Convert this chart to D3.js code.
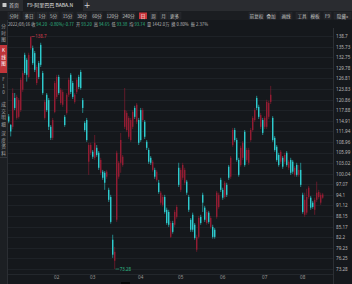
<!DOCTYPE html>
<html>
<head>
<meta charset="utf-8">
<script src="https://cdn.jsdelivr.net/npm/d3@7"></script>
<style>
  html, body { margin: 0; padding: 0; background: #15181c; overflow: hidden; }
  svg { display: block; font-family: "Noto Sans CJK SC", "Noto Sans", sans-serif; }
</style>
</head>
<body>
<svg id="chart" width="352" height="284"></svg>
<script>
// daily candles, 2021/12/28 .. 2022/08/16
const opens = [116.1,113.7,113.2,121.3,115.7,116.0,117.9,123.6,133.4,132.0,127.2,135.3,135.3,133.9,125.5,131.1,136.2,128.3,115.7,122.2,
  120.7,113.2,110.1,117.4,121.6,127.2,119.9,119.4,116.0,117.1,122.2,127.8,125.5,120.2,123.0,127.2,128.6,120.7,114.3,115.1,
  103.4,105.9,106.2,104.5,107.3,105.9,100.3,100.6,100.3,99.2,95.5,93.5,81.5,75.6,87.1,99.2,103.1,102.5,113.2,112.3,
  110.4,109.5,113.2,118.5,114.6,115.1,117.9,115.1,114.6,109.0,106.7,104.5,101.1,101.1,98.3,97.5,91.9,91.3,93.5,89.9,
  89.3,82.3,86.2,85.7,87.9,101.7,95.5,98.9,97.5,97.8,93.5,87.1,88.5,85.7,78.7,82.3,87.9,94.1,90.5,86.2,
  89.1,85.1,85.1,84.3,87.9,90.7,98.3,95.5,93.5,96.9,102.0,99.2,108.1,112.3,109.5,103.9,102.5,104.5,111.8,103.9,
  103.1,109.5,112.3,115.1,121.3,118.8,113.2,115.1,113.2,113.2,116.0,120.2,115.7,110.1,107.6,105.3,103.4,104.5,103.4,105.9,
  101.7,103.9,103.4,99.7,102.5,99.7,101.1,94.1,88.5,89.1,93.5,93.3,91.9,89.9,92.7,93.5,91.9,93.3];
const highs = [116.8,114.0,124.0,122.7,122.2,121.3,127.0,129.0,134.0,132.5,134.0,138.7,136.0,134.5,130.6,131.7,136.8,128.9,120.8,122.7,
  121.3,113.7,115.7,126.1,127.8,127.8,124.1,123.6,116.5,122.7,127.0,128.3,126.1,122.7,127.0,127.8,129.2,121.3,114.8,115.7,
  108.7,108.7,106.7,110.9,108.1,106.4,104.5,101.1,100.8,101.1,96.1,94.1,82.9,79.5,106.5,103.6,111.5,105.3,124.1,117.7,
  116.2,115.7,117.9,119.1,119.9,115.7,118.5,118.5,115.1,109.5,107.3,105.0,103.9,101.7,101.1,98.3,95.2,94.1,94.1,90.5,
  89.9,86.8,86.8,89.9,91.3,103.1,101.7,103.1,101.7,98.3,94.1,87.6,89.1,86.2,82.9,88.2,88.5,94.7,91.0,89.9,
  89.6,88.2,85.7,84.8,95.2,94.7,98.9,96.1,98.0,97.5,102.5,105.0,112.9,112.9,110.1,104.5,107.9,109.2,112.3,107.3,
  107.3,112.9,116.2,118.5,121.9,119.4,117.1,115.7,116.2,120.8,120.5,124.7,116.2,110.6,108.1,105.9,106.7,105.0,105.9,106.4,
  103.9,104.5,103.9,102.2,103.1,102.5,103.1,94.7,94.7,95.8,96.6,93.8,92.4,93.3,97.8,95.5,94.7,94.65];
const lows = [114.2,110.5,112.5,117.9,115.2,115.5,117.4,123.0,127.8,125.9,126.8,134.8,130.6,128.6,124.9,126.6,130.0,122.2,115.2,117.4,
  112.3,109.5,109.5,117.0,121.0,122.2,119.4,118.8,113.2,116.6,121.6,122.4,121.0,119.7,122.4,123.8,123.6,117.1,111.8,109.0,
  99.7,105.3,104.2,103.9,104.8,101.1,99.7,98.3,95.5,98.6,92.1,86.0,76.4,73.28,86.5,98.6,100.3,102.0,112.6,111.8,
  109.8,109.0,112.6,115.4,114.0,108.1,109.0,114.6,109.8,106.7,102.8,102.5,100.6,98.6,97.8,94.4,91.3,90.8,88.8,85.7,
  85.1,82.0,83.2,85.1,87.4,96.3,94.9,98.3,96.9,94.1,89.3,83.7,83.7,81.5,78.1,81.8,85.7,89.3,86.5,85.7,
  86.0,84.6,81.8,81.8,87.4,90.2,94.9,92.7,93.0,93.5,98.3,98.6,107.6,109.0,103.4,99.2,102.0,103.9,102.0,103.4,
  102.5,109.0,111.8,114.6,117.9,115.4,112.6,110.9,112.6,112.6,115.4,119.6,109.0,106.2,103.4,102.0,102.8,101.4,102.8,102.0,
  101.1,99.7,100.0,99.2,99.2,99.2,96.3,88.8,87.9,88.5,93.0,89.9,90.2,88.5,92.1,93.0,91.3,93.0];
const closes = [114.7,111.9,122.7,118.5,121.6,120.7,126.4,128.3,128.3,127.8,133.4,138.4,131.1,129.2,130.0,127.2,130.6,122.7,120.2,117.9,
  113.2,110.1,115.1,125.5,127.2,122.7,123.6,123.0,113.7,122.2,126.4,123.0,121.6,122.2,126.4,124.4,124.1,118.5,112.3,109.5,
  108.1,108.1,104.8,108.7,105.3,101.7,103.9,98.9,97.5,100.6,92.7,86.5,77.3,78.1,105.9,103.1,109.5,104.8,117.9,117.1,
  115.7,115.1,117.4,116.0,119.4,108.7,109.5,117.9,110.4,107.3,103.4,103.1,103.4,99.2,100.6,94.9,94.7,93.5,89.3,86.2,
  85.7,86.2,83.7,89.3,90.7,96.9,101.1,102.5,101.1,94.7,89.9,84.3,84.3,82.0,82.3,87.6,86.2,91.9,87.1,89.3,
  86.5,87.6,82.3,82.3,94.7,94.1,95.5,93.3,97.5,94.1,98.9,104.5,112.3,109.5,103.9,99.7,107.3,108.7,102.5,106.7,
  106.7,112.3,115.7,117.9,118.5,116.0,116.5,111.5,115.7,120.2,119.9,122.2,109.5,106.7,103.9,102.5,106.2,102.0,105.3,102.5,
  103.4,100.3,100.6,101.7,99.7,101.1,96.9,89.3,92.7,93.5,96.1,90.5,90.7,92.7,94.7,94.9,94.1,94.2];

const priceLabels = ["138.7","135.73","132.75","129.78","126.81","123.83","120.86","117.88","114.91","111.94","108.96",
  "105.99","103.02","100.04","97.07","94.1","91.12","88.15","85.17","82.2","79.23","76.25","73.28"];
const monthLabels = ["02","03","04","05","06","07","08"];
const monthStart = [24, 42, 66, 86, 107, 128, 147];

const periodTabs = ["分时","多日","1分","5分","15分","30分","60分","120分","240分","日","周","月","更多"];
const toolTabs = ["前复权","叠加","画线","工具","模板","F9","隐藏»"];
const sideTabs = ["分时图","K线图","F10","成交明细","深度资料"];
const quote = [
  ["2022/08/16", "#bdbdbd"], [" 收 ", "#bdbdbd"], ["94.20", "#2fb985"], ["  ", "#bdbdbd"],
  ["-0.80%/-0.77", "#2fb985"], ["  开 ", "#bdbdbd"], ["93.20", "#2fb985"], ["  高 ", "#bdbdbd"],
  ["94.65", "#2fb985"], ["  低 ", "#bdbdbd"], ["93.38", "#2fb985"], ["  均 ", "#bdbdbd"],
  ["93.74", "#2fb985"], ["  量 1442.0万", "#bdbdbd"], ["  换 0.80%  振 2.37%", "#bdbdbd"]
];

const UP = "#931c33";
const DOWN = "#2ecbce";

const svg = d3.select("#chart");
const PLOT = { LEFT: 8, RIGHT: 333, TOP: 28, BOTTOM: 274 };

// backgrounds
svg.append("rect").attr("width", 352).attr("height", 284).attr("fill", "#15181c");
svg.append("rect").attr("width", 352).attr("height", 11).attr("fill", "#2a2c30");
svg.append("rect").attr("y", 11).attr("width", 352).attr("height", 9).attr("fill", "#1b1d21");
svg.append("rect").attr("y", 20).attr("width", 8).attr("height", 264).attr("fill", "#1c1f23");
svg.append("line").attr("x1", 7.5).attr("x2", 7.5).attr("y1", 20).attr("y2", 284).attr("stroke", "#2b2e33");

// tab bar
svg.append("rect").attr("x", 2.5).attr("y", 3).attr("width", 4).attr("height", 4).attr("fill", "#c9c9c9").attr("rx", 0.5);
svg.append("text").attr("x", 9).attr("y", 7.3).attr("font-size", 5).attr("fill", "#d0d0d0").text("首页");
svg.append("rect").attr("x", 23).attr("y", 0).attr("width", 60).attr("height", 11).attr("fill", "#1b1d21");
svg.append("text").attr("x", 27).attr("y", 7.3).attr("font-size", 5).attr("fill", "#e0e0e0").text("F9-阿里巴巴 BABA.N");
svg.append("text").attr("x", 87).attr("y", 8.4).attr("font-size", 8).attr("fill", "#cfcfcf")
  .attr("font-family", "'DejaVu Sans', sans-serif").attr("text-anchor", "middle").text("+");

// period buttons
const periodX = [8, 23, 37, 49, 62, 77, 92, 107, 122, 139, 150, 160, 168];
const periodW = [12, 12, 10, 9, 11, 10, 10, 11, 13, 8, 7, 7, 13];
periodTabs.forEach((t, k) => {
  const active = t === "日";
  svg.append("rect").attr("x", periodX[k]).attr("y", 12.5).attr("width", periodW[k]).attr("height", 6.5)
    .attr("fill", active ? "#c8353a" : "#222428").attr("stroke", active ? "none" : "#2d3034").attr("stroke-width", 0.4);
  svg.append("text").attr("x", periodX[k] + periodW[k] / 2).attr("y", 17.6).attr("font-size", 4.6)
    .attr("text-anchor", "middle").attr("fill", active ? "#ffffff" : "#c4c4c4").text(t);
});
const toolX = [249, 266, 280, 296, 310, 324, 334];
const toolW = [15, 10, 12, 12, 10, 7, 17];
toolTabs.forEach((t, k) => {
  svg.append("rect").attr("x", toolX[k]).attr("y", 12.5).attr("width", toolW[k]).attr("height", 6.5)
    .attr("fill", "#222428").attr("stroke", "#2d3034").attr("stroke-width", 0.4);
  svg.append("text").attr("x", toolX[k] + toolW[k] / 2).attr("y", 17.6).attr("font-size", 4.6)
    .attr("text-anchor", "middle").attr("fill", "#c4c4c4").text(t);
});

// quote line
const info = svg.append("text").attr("x", 8).attr("y", 25.8).attr("font-size", 4.2)
  .attr("xml:space", "preserve").style("white-space", "pre")
  .attr("textLength", 200).attr("lengthAdjust", "spacing");
quote.forEach(([t, c]) => info.append("tspan").attr("fill", c).text(t));

// side tabs
const sideY = [26, 50, 79, 104, 133];
sideTabs.forEach((t, k) => {
  const chars = t === "F10" ? ["F", "1", "0"] : Array.from(t);
  const active = t === "K线图";
  if (active) {
    svg.append("rect").attr("x", 0).attr("y", 45).attr("width", 7).attr("height", 28).attr("fill", "#c0353a");
  }
  chars.forEach((ch, j) => {
    svg.append("text").attr("x", 3.5).attr("y", sideY[k] + j * 6.5 + 2).attr("font-size", 4.6)
      .attr("text-anchor", "middle").attr("fill", active ? "#ffffff" : "#a9a9a9").text(ch);
  });
});
svg.append("line").attr("x1", 0).attr("x2", 7).attr("y1", 157.5).attr("y2", 157.5).attr("stroke", "#34373c");

// scales
const n = opens.length;
const x = d3.scaleBand().domain(d3.range(n)).range([7.7, 7.7 + 2 * n]);
const y = d3.scaleLinear().domain([73.28, 138.7]).range([269, 36]);
const cx = (i) => x(i) + x.bandwidth() / 2;

// grid
svg.append("g").selectAll("line").data(priceLabels).join("line")
  .attr("x1", PLOT.LEFT).attr("x2", PLOT.RIGHT)
  .attr("y1", (d) => Math.round(y(+d)) + 0.5).attr("y2", (d) => Math.round(y(+d)) + 0.5)
  .attr("stroke", "#1e2227").attr("stroke-width", 1);

svg.append("line").attr("x1", PLOT.RIGHT + 0.5).attr("x2", PLOT.RIGHT + 0.5)
  .attr("y1", 28).attr("y2", 284).attr("stroke", "#2c2f34");
svg.append("line").attr("x1", PLOT.LEFT).attr("x2", PLOT.RIGHT)
  .attr("y1", PLOT.BOTTOM + 0.5).attr("y2", PLOT.BOTTOM + 0.5).attr("stroke", "#23272c");

// right axis
const yAxis = d3.axisRight(y).tickValues(priceLabels.map(Number)).tickFormat((d, k) => priceLabels[k]).tickSize(0).tickPadding(3);
svg.append("g").attr("transform", `translate(${PLOT.RIGHT},0)`).call(yAxis)
  .call((g) => g.select(".domain").remove())
  .call((g) => g.selectAll("text").attr("font-size", 4.6).attr("fill", "#b5b5b5")
    .attr("font-family", "'Noto Sans', sans-serif"));

// bottom month labels
const xAxis = d3.axisBottom(x).tickValues(monthStart).tickFormat((d, k) => monthLabels[k]).tickSize(0).tickPadding(2);
svg.append("g").attr("transform", `translate(0,${PLOT.BOTTOM})`).call(xAxis)
  .call((g) => g.select(".domain").remove())
  .call((g) => g.selectAll("text").attr("font-size", 4.6).attr("fill", "#9a9a9a")
    .attr("font-family", "'Noto Sans', sans-serif"));
svg.append("rect").attr("x", 121).attr("y", 282).attr("width", 9).attr("height", 2).attr("fill", "#050607");

// candles
const candles = opens.map((o, i) => ({ i, o, h: highs[i], l: lows[i], c: closes[i] }));
const gCandles = svg.append("g").attr("class", "candles");
const bodyW = 1.4;

gCandles.selectAll("line").data(candles).join("line")
  .attr("x1", (d) => cx(d.i)).attr("x2", (d) => cx(d.i))
  .attr("y1", (d) => y(d.h)).attr("y2", (d) => y(d.l))
  .attr("stroke", (d) => (d.c >= d.o ? UP : DOWN)).attr("stroke-width", 0.6);

gCandles.selectAll("rect").data(candles).join("rect")
  .attr("x", (d) => cx(d.i) - bodyW / 2).attr("width", bodyW)
  .attr("y", (d) => y(Math.max(d.o, d.c)))
  .attr("height", (d) => Math.max(0.6, Math.abs(y(d.o) - y(d.c))))
  .attr("fill", (d) => (d.c >= d.o ? UP : DOWN));

// high / low markers
const hiIdx = d3.maxIndex(highs);
const loIdx = d3.minIndex(lows);
svg.append("line").attr("x1", cx(hiIdx) + 0.8).attr("x2", cx(hiIdx) + 4)
  .attr("y1", y(highs[hiIdx]) + 0.5).attr("y2", y(highs[hiIdx]) + 0.5).attr("stroke", "#d03a4a").attr("stroke-width", 0.6);
svg.append("text").attr("x", cx(hiIdx) + 4.5).attr("y", y(highs[hiIdx]) + 2.2).attr("font-size", 4.4)
  .attr("fill", "#d03a4a").attr("font-family", "'Noto Sans', sans-serif").text(highs[hiIdx]);
svg.append("line").attr("x1", cx(loIdx) + 0.8).attr("x2", cx(loIdx) + 4.5)
  .attr("y1", y(lows[loIdx])).attr("y2", y(lows[loIdx])).attr("stroke", "#2fb985").attr("stroke-width", 0.6);
svg.append("text").attr("x", cx(loIdx) + 5).attr("y", y(lows[loIdx]) + 1.6).attr("font-size", 4.4)
  .attr("fill", "#2fb985").attr("font-family", "'Noto Sans', sans-serif").text(lows[loIdx]);
</script>
</body>
</html>
